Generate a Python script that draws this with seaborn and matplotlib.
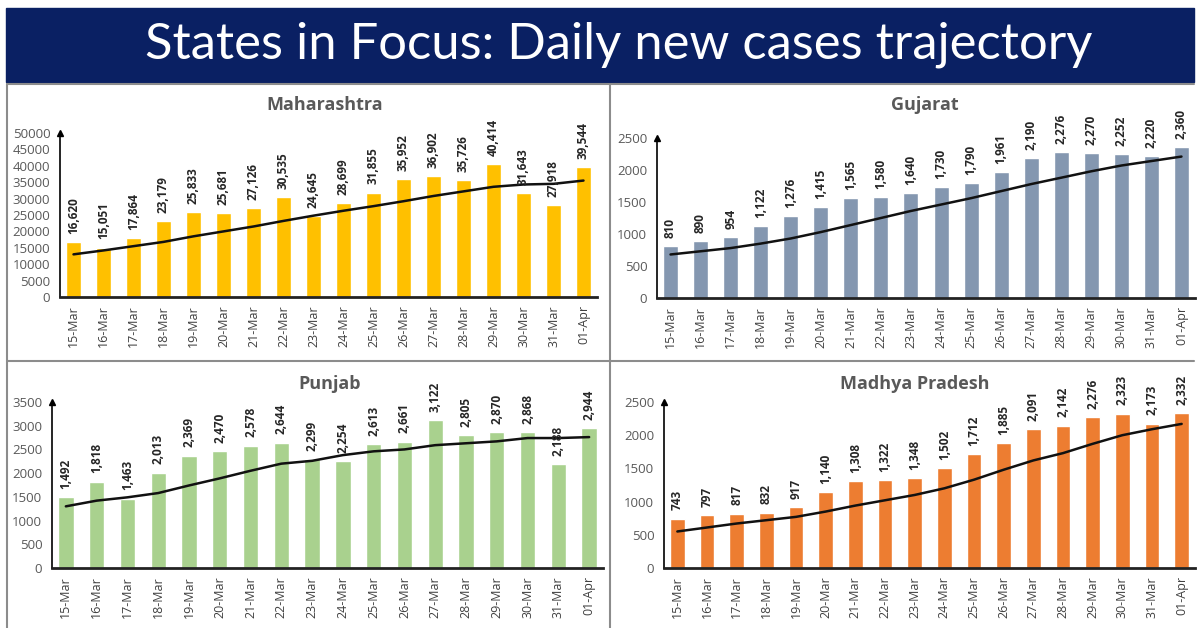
import numpy as np
import matplotlib
matplotlib.use("Agg")
import matplotlib.pyplot as plt
import seaborn as sns
from matplotlib.patches import Rectangle
from matplotlib.lines import Line2D

dates = ["15-Mar", "16-Mar", "17-Mar", "18-Mar", "19-Mar", "20-Mar", "21-Mar", "22-Mar", "23-Mar",
         "24-Mar", "25-Mar", "26-Mar", "27-Mar", "28-Mar", "29-Mar", "30-Mar", "31-Mar", "01-Apr"]

maharashtra = [16620, 15051, 17864, 23179, 25833, 25681, 27126, 30535, 24645,
               28699, 31855, 35952, 36902, 35726, 40414, 31643, 27918, 39544]
maharashtra_trend = [13000, 14200, 15500, 16800, 18500, 20000, 21500, 23200, 24800,
                     26300, 27700, 29200, 30800, 32200, 33600, 34300, 34500, 35500]

gujarat = [810, 890, 954, 1122, 1276, 1415, 1565, 1580, 1640,
           1730, 1790, 1961, 2190, 2276, 2270, 2252, 2220, 2360]
gujarat_trend = [680, 730, 780, 850, 930, 1030, 1140, 1250, 1360,
                 1460, 1560, 1670, 1780, 1880, 1980, 2070, 2140, 2210]

punjab = [1492, 1818, 1463, 2013, 2369, 2470, 2578, 2644, 2299,
          2254, 2613, 2661, 3122, 2805, 2870, 2868, 2188, 2944]
punjab_trend = [1300, 1420, 1490, 1580, 1740, 1890, 2050, 2200, 2260,
                2380, 2460, 2500, 2590, 2630, 2670, 2740, 2740, 2760]

mp = [743, 797, 817, 832, 917, 1140, 1308, 1322, 1348,
      1502, 1712, 1885, 2091, 2142, 2276, 2323, 2173, 2332]
mp_trend = [550, 610, 670, 720, 770, 850, 940, 1020, 1100,
            1200, 1330, 1480, 1620, 1730, 1870, 2000, 2090, 2170]

sns.set_theme(style="white")
plt.rcParams["font.family"] = ["Open Sans", "DejaVu Sans"]

W, H = 1200, 628
fig = plt.figure(figsize=(12, 6.28), dpi=100)


def box(x0, y0, x1, y1):
    # pixel coords (top-left origin) -> figure fraction
    return [x0 / W, 1 - y1 / H, (x1 - x0) / W, (y1 - y0) / H]


# title banner
fig.add_artist(Rectangle((6 / W, 1 - 82 / H), 1188 / W, 74 / H, transform=fig.transFigure,
                         color="#0a2063", zorder=0))
fig.text(619 / W, 1 - 45 / H, "States in Focus: Daily new cases trajectory", color="white",
         fontsize=36.5, ha="center", va="center", family=["Lato", "DejaVu Sans"])

# panel borders
grey = "#8c8c8c"
for xs, ys in [([7 / W, 7 / W], [1 - 84 / H, 0]),
               ([610 / W, 610 / W], [1 - 84 / H, 0]),
               ([7 / W, 1194 / W], [1 - 84 / H, 1 - 84 / H]),
               ([7 / W, 1194 / W], [1 - 361 / H, 1 - 361 / H])]:
    fig.add_artist(Line2D(xs, ys, color=grey, lw=1.5, transform=fig.transFigure))

panels = [
    ("Maharashtra", maharashtra, maharashtra_trend, "#ffc000", box(60, 133, 597, 297), 50000, 5000, (325, 105)),
    ("Gujarat", gujarat, gujarat_trend, "#8497b0", box(657, 138, 1195, 298), 2500, 500, (925, 105)),
    ("Punjab", punjab, punjab_trend, "#a9d18e", box(52, 402, 603, 568), 3500, 500, (330, 384)),
    ("Madhya Pradesh", mp, mp_trend, "#ed7d31", box(664, 402, 1195, 568), 2500, 500, (915, 384)),
]

for name, vals, trend, color, pos, top, step, tpos in panels:
    ax = fig.add_axes(pos)
    sns.barplot(x=dates, y=vals, color=color, width=0.5, saturation=1, ax=ax)
    sns.lineplot(x=np.arange(len(dates)), y=trend, color="#111111", lw=1.8, ax=ax)
    ax.set_ylim(0, top)
    ax.set_xlim(-0.45, len(dates) - 0.55)
    ax.set_yticks(np.arange(0, top + 1, step))
    ax.tick_params(axis="y", length=0, labelsize=9.5, labelcolor="#595959", pad=7)
    ax.tick_params(axis="x", length=0, labelsize=9, labelcolor="#404040", rotation=90, pad=6)
    for s in ["top", "right"]:
        ax.spines[s].set_visible(False)
    ax.spines["left"].set_color("black")
    ax.spines["left"].set_linewidth(1.2)
    ax.spines["bottom"].set_color("#222222")
    ax.spines["bottom"].set_linewidth(2)
    ax.plot(0, 1, marker="^", color="black", ms=4, transform=ax.transAxes, clip_on=False)
    for i, v in enumerate(vals):
        ax.text(i, v + top * 0.05, f"{v:,}", rotation=90, ha="center", va="bottom",
                fontsize=8.5, fontweight="bold", color="#262626", clip_on=False)
    fig.text(tpos[0] / W, 1 - tpos[1] / H, name, ha="center", va="center",
             fontsize=13, fontweight="bold", color="#595959")

fig.savefig("out.png", dpi=100)
